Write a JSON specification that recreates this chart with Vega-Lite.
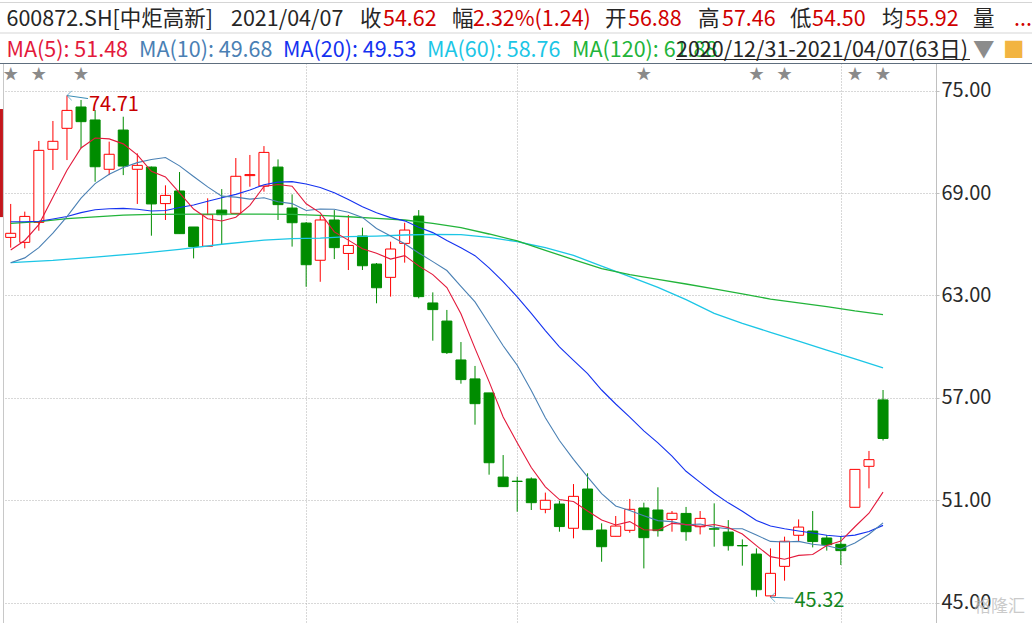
{
"$schema": "https://vega.github.io/schema/vega-lite/v6.json",
"width": 933, "height": 560,
"autosize": {"type": "none"},
"padding": {"left": 3, "top": 63, "right": 96, "bottom": 0},
"background": "#FFFFFF",
"config": {"view": {"stroke": "#C8C8C8"}, "font": "Noto Sans CJK SC"},
"datasets": {
"k": [
{"i":0,"o":66.40,"h":68.36,"l":65.80,"c":66.64,"ma5":65.66,"ma10":64.92,"ma20":67.32},
{"i":1,"o":66.11,"h":67.91,"l":65.76,"c":67.63,"ma5":66.22,"ma10":65.20,"ma20":67.32},
{"i":2,"o":67.28,"h":72.05,"l":66.79,"c":71.50,"ma5":67.15,"ma10":65.80,"ma20":67.35},
{"i":3,"o":71.56,"h":73.22,"l":70.35,"c":72.03,"ma5":68.75,"ma10":66.65,"ma20":67.48},
{"i":4,"o":72.79,"h":74.71,"l":70.93,"c":73.84,"ma5":70.33,"ma10":67.62,"ma20":67.62},
{"i":5,"o":74.04,"h":74.45,"l":71.62,"c":73.18,"ma5":71.64,"ma10":68.70,"ma20":67.85},
{"i":6,"o":73.28,"h":73.86,"l":69.66,"c":70.54,"ma5":72.22,"ma10":69.55,"ma20":68.02},
{"i":7,"o":70.39,"h":72.01,"l":70.05,"c":71.27,"ma5":72.17,"ma10":70.10,"ma20":68.08},
{"i":8,"o":72.69,"h":73.47,"l":70.05,"c":70.58,"ma5":71.88,"ma10":70.50,"ma20":68.10},
{"i":9,"o":70.39,"h":71.32,"l":68.36,"c":70.62,"ma5":71.24,"ma10":70.78,"ma20":68.05},
{"i":10,"o":70.52,"h":70.55,"l":66.50,"c":68.36,"ma5":70.27,"ma10":70.96,"ma20":67.95},
{"i":11,"o":68.38,"h":69.45,"l":67.42,"c":68.86,"ma5":69.94,"ma10":71.08,"ma20":67.98},
{"i":12,"o":69.12,"h":70.23,"l":66.62,"c":66.62,"ma5":69.01,"ma10":70.59,"ma20":68.15},
{"i":13,"o":67.01,"h":67.01,"l":65.17,"c":65.86,"ma5":68.06,"ma10":69.97,"ma20":68.30},
{"i":14,"o":65.88,"h":68.69,"l":65.88,"c":67.73,"ma5":67.49,"ma10":69.36,"ma20":68.52},
{"i":15,"o":68.00,"h":69.23,"l":66.01,"c":67.73,"ma5":67.36,"ma10":68.82,"ma20":68.72},
{"i":16,"o":67.81,"h":71.05,"l":67.81,"c":69.98,"ma5":67.58,"ma10":68.76,"ma20":68.92},
{"i":17,"o":70.02,"h":71.23,"l":69.37,"c":70.08,"ma5":68.28,"ma10":68.64,"ma20":69.18},
{"i":18,"o":69.41,"h":71.75,"l":69.08,"c":71.38,"ma5":69.38,"ma10":68.72,"ma20":69.48},
{"i":19,"o":70.52,"h":70.97,"l":67.42,"c":68.32,"ma5":69.50,"ma10":68.49,"ma20":69.64},
{"i":20,"o":68.12,"h":68.92,"l":65.86,"c":67.26,"ma5":69.40,"ma10":68.38,"ma20":69.67},
{"i":21,"o":67.24,"h":67.30,"l":63.51,"c":64.80,"ma5":68.37,"ma10":67.98,"ma20":69.53},
{"i":22,"o":65.06,"h":67.71,"l":63.80,"c":67.42,"ma5":67.84,"ma10":68.06,"ma20":69.32},
{"i":23,"o":67.42,"h":68.00,"l":65.13,"c":65.80,"ma5":66.72,"ma10":68.05,"ma20":69.01},
{"i":24,"o":65.46,"h":67.71,"l":64.49,"c":65.93,"ma5":66.24,"ma10":67.87,"ma20":68.62},
{"i":25,"o":66.48,"h":66.97,"l":64.49,"c":64.74,"ma5":65.74,"ma10":67.57,"ma20":68.19},
{"i":26,"o":64.84,"h":64.90,"l":62.54,"c":63.45,"ma5":65.47,"ma10":66.92,"ma20":67.84},
{"i":27,"o":64.06,"h":66.15,"l":62.93,"c":65.72,"ma5":65.13,"ma10":66.48,"ma20":67.56},
{"i":28,"o":66.05,"h":67.26,"l":64.92,"c":66.83,"ma5":65.33,"ma10":66.03,"ma20":67.37},
{"i":29,"o":67.65,"h":68.00,"l":62.83,"c":62.93,"ma5":64.73,"ma10":65.49,"ma20":66.99},
{"i":30,"o":62.56,"h":63.18,"l":60.35,"c":62.17,"ma5":64.22,"ma10":64.98,"ma20":66.68},
{"i":31,"o":61.50,"h":62.15,"l":59.57,"c":59.65,"ma5":63.46,"ma10":64.46,"ma20":66.22},
{"i":32,"o":59.22,"h":60.27,"l":57.83,"c":58.07,"ma5":61.93,"ma10":63.53,"ma20":65.79},
{"i":33,"o":58.11,"h":58.87,"l":55.43,"c":56.66,"ma5":59.90,"ma10":62.62,"ma20":65.33},
{"i":34,"o":57.29,"h":57.29,"l":52.50,"c":53.20,"ma5":57.95,"ma10":61.34,"ma20":64.61},
{"i":35,"o":52.36,"h":53.65,"l":51.80,"c":51.80,"ma5":55.88,"ma10":60.05,"ma20":63.81},
{"i":36,"o":52.12,"h":52.38,"l":50.33,"c":52.10,"ma5":54.37,"ma10":58.91,"ma20":62.92},
{"i":37,"o":52.25,"h":52.34,"l":50.43,"c":50.86,"ma5":52.92,"ma10":57.43,"ma20":61.95},
{"i":38,"o":50.47,"h":51.45,"l":50.24,"c":51.00,"ma5":51.79,"ma10":55.84,"ma20":60.94},
{"i":39,"o":50.78,"h":50.98,"l":49.16,"c":49.46,"ma5":51.04,"ma10":54.50,"ma20":59.99},
{"i":40,"o":49.36,"h":51.95,"l":48.77,"c":51.23,"ma5":50.93,"ma10":53.40,"ma20":59.19},
{"i":41,"o":51.66,"h":52.58,"l":49.28,"c":49.28,"ma5":50.37,"ma10":52.37,"ma20":58.42},
{"i":42,"o":49.26,"h":49.65,"l":47.40,"c":48.28,"ma5":49.85,"ma10":51.39,"ma20":57.46},
{"i":43,"o":48.89,"h":50.08,"l":48.89,"c":49.49,"ma5":49.55,"ma10":50.67,"ma20":56.64},
{"i":44,"o":49.24,"h":51.08,"l":49.10,"c":50.47,"ma5":49.75,"ma10":50.40,"ma20":55.87},
{"i":45,"o":50.55,"h":50.86,"l":47.01,"c":48.81,"ma5":49.27,"ma10":50.10,"ma20":55.07},
{"i":46,"o":50.43,"h":51.76,"l":48.87,"c":49.22,"ma5":49.25,"ma10":49.81,"ma20":54.36},
{"i":47,"o":49.88,"h":50.37,"l":49.16,"c":50.24,"ma5":49.65,"ma10":49.75,"ma20":53.59},
{"i":48,"o":50.23,"h":50.61,"l":48.63,"c":49.16,"ma5":49.58,"ma10":49.56,"ma20":52.70},
{"i":49,"o":49.45,"h":50.37,"l":49.00,"c":49.94,"ma5":49.47,"ma10":49.61,"ma20":52.05},
{"i":50,"o":49.33,"h":50.82,"l":48.28,"c":49.31,"ma5":49.58,"ma10":49.42,"ma20":51.41},
{"i":51,"o":49.14,"h":49.84,"l":48.05,"c":48.34,"ma5":49.40,"ma10":49.33,"ma20":50.85},
{"i":52,"o":48.35,"h":48.71,"l":47.17,"c":48.33,"ma5":49.02,"ma10":49.33,"ma20":50.36},
{"i":53,"o":47.85,"h":48.18,"l":45.35,"c":45.76,"ma5":48.34,"ma10":48.96,"ma20":49.82},
{"i":54,"o":45.40,"h":48.18,"l":45.32,"c":46.72,"ma5":47.70,"ma10":48.59,"ma20":49.49},
{"i":55,"o":47.13,"h":48.87,"l":46.29,"c":48.60,"ma5":47.55,"ma10":48.56,"ma20":49.33},
{"i":56,"o":48.95,"h":49.88,"l":48.56,"c":49.43,"ma5":47.77,"ma10":48.59,"ma20":49.20},
{"i":57,"o":49.20,"h":50.37,"l":48.24,"c":48.58,"ma5":47.82,"ma10":48.42,"ma20":49.08},
{"i":58,"o":48.79,"h":48.97,"l":48.05,"c":48.40,"ma5":48.35,"ma10":48.34,"ma20":48.95},
{"i":59,"o":48.42,"h":48.87,"l":47.21,"c":48.05,"ma5":48.61,"ma10":48.15,"ma20":48.88},
{"i":60,"o":50.59,"h":52.81,"l":50.59,"c":52.81,"ma5":49.45,"ma10":48.50,"ma20":48.96},
{"i":61,"o":52.99,"h":53.89,"l":51.70,"c":53.38,"ma5":50.24,"ma10":49.01,"ma20":49.17},
{"i":62,"o":56.88,"h":57.46,"l":54.50,"c":54.62,"ma5":51.48,"ma10":49.68,"ma20":49.53}
],
"slow": [
{"s":"ma60","i":0,"v":64.92},{"s":"ma60","i":3,"v":65.05},{"s":"ma60","i":6,"v":65.25},{"s":"ma60","i":9,"v":65.45},{"s":"ma60","i":12,"v":65.70},{"s":"ma60","i":15,"v":66.00},{"s":"ma60","i":18,"v":66.24},{"s":"ma60","i":20,"v":66.33},{"s":"ma60","i":22,"v":66.36},{"s":"ma60","i":24,"v":66.44},{"s":"ma60","i":26,"v":66.48},{"s":"ma60","i":28,"v":66.54},{"s":"ma60","i":30,"v":66.58},{"s":"ma60","i":32,"v":66.56},{"s":"ma60","i":34,"v":66.40},{"s":"ma60","i":36,"v":66.15},{"s":"ma60","i":37,"v":65.97},{"s":"ma60","i":38,"v":65.80},{"s":"ma60","i":40,"v":65.35},{"s":"ma60","i":42,"v":64.72},{"s":"ma60","i":44,"v":64.10},{"s":"ma60","i":46,"v":63.47},{"s":"ma60","i":48,"v":62.75},{"s":"ma60","i":50,"v":61.95},{"s":"ma60","i":52,"v":61.37},{"s":"ma60","i":54,"v":60.84},{"s":"ma60","i":56,"v":60.33},{"s":"ma60","i":58,"v":59.80},{"s":"ma60","i":60,"v":59.28},{"s":"ma60","i":62,"v":58.76},
{"s":"ma120","i":0,"v":67.22},{"s":"ma120","i":2,"v":67.32},{"s":"ma120","i":4,"v":67.50},{"s":"ma120","i":6,"v":67.60},{"s":"ma120","i":8,"v":67.70},{"s":"ma120","i":10,"v":67.75},{"s":"ma120","i":14,"v":67.76},{"s":"ma120","i":18,"v":67.76},{"s":"ma120","i":20,"v":67.75},{"s":"ma120","i":22,"v":67.69},{"s":"ma120","i":24,"v":67.61},{"s":"ma120","i":26,"v":67.52},{"s":"ma120","i":28,"v":67.42},{"s":"ma120","i":30,"v":67.22},{"s":"ma120","i":32,"v":66.97},{"s":"ma120","i":34,"v":66.60},{"s":"ma120","i":36,"v":66.19},{"s":"ma120","i":37,"v":65.92},{"s":"ma120","i":38,"v":65.64},{"s":"ma120","i":40,"v":65.10},{"s":"ma120","i":42,"v":64.57},{"s":"ma120","i":44,"v":64.22},{"s":"ma120","i":46,"v":63.94},{"s":"ma120","i":48,"v":63.67},{"s":"ma120","i":50,"v":63.38},{"s":"ma120","i":52,"v":63.09},{"s":"ma120","i":54,"v":62.79},{"s":"ma120","i":56,"v":62.56},{"s":"ma120","i":58,"v":62.34},{"s":"ma120","i":60,"v":62.09},{"s":"ma120","i":62,"v":61.88}
],
"stars": [{"i":0},{"i":2},{"i":5},{"i":45},{"i":53},{"i":55},{"i":60},{"i":62}],
"notes": [{"i":4,"v":74.71,"t":"74.71"},{"i":54,"v":45.32,"t":"45.32"}],
"hdr": [
{"k":1,"r":1,"t":"600872.SH[中炬高新]","tone":"dark"},
{"k":2,"r":1,"t":"2021/04/07","tone":"dark"},
{"k":3,"r":1,"t":"收","tone":"dark"},
{"k":4,"r":1,"t":"54.62","tone":"red"},
{"k":5,"r":1,"t":"幅","tone":"dark"},
{"k":6,"r":1,"t":"2.32%(1.24)","tone":"red"},
{"k":7,"r":1,"t":"开","tone":"dark"},
{"k":8,"r":1,"t":"56.88","tone":"red"},
{"k":9,"r":1,"t":"高","tone":"dark"},
{"k":10,"r":1,"t":"57.46","tone":"red"},
{"k":11,"r":1,"t":"低","tone":"dark"},
{"k":12,"r":1,"t":"54.50","tone":"red"},
{"k":13,"r":1,"t":"均","tone":"dark"},
{"k":14,"r":1,"t":"55.92","tone":"red"},
{"k":15,"r":1,"t":"量","tone":"dark"},
{"k":16,"r":1,"t":"...","tone":"red"},
{"k":1,"r":3,"t":"MA(5): 51.48","tone":"ma5"},
{"k":17,"r":3,"t":"MA(10): 49.68","tone":"ma10"},
{"k":18,"r":3,"t":"MA(20): 49.53","tone":"ma20"},
{"k":19,"r":3,"t":"MA(60): 58.76","tone":"ma60"},
{"k":20,"r":3,"t":"MA(120): 61.88","tone":"ma120"},
{"k":21,"r":3,"t":"2020/12/31-2021/04/07(63日)","tone":"dark"},
{"k":15,"r":3,"t":"▼","tone":"gray"},
{"k":22,"r":3,"t":"■","tone":"orange"},
{"k":25,"r":6,"t":"格隆汇","tone":"wm"}
],
"hrules": [
{"k":0,"k2":24,"r":0,"tone":"sepl"},
{"k":0,"k2":24,"r":2,"tone":"sepl"},
{"k":0,"k2":24,"r":5,"tone":"sepd"},
{"k":21,"k2":23,"r":4,"tone":"dark"}
]
},
"layer": [
{
"layer": [
{
"data": {"values": [{"lo": 67.59, "hi": 73.92}]},
"mark": {"type": "rect", "color": "#C3161C"},
"encoding": {
"x": {"datum": -0.76, "type": "quantitative"},
"x2": {"datum": -0.55},
"y": {"field": "lo", "type": "quantitative", "title": null},
"y2": {"field": "hi"}
}
},
{
"data": {"name": "k"},
"mark": {"type": "rule", "strokeWidth": 1},
"encoding": {
"x": {"field": "i", "type": "quantitative", "title": null,
"scale": {"domain": [-0.547, 65.764], "nice": false, "zero": false, "padding": 0},
"axis": {"values": [21, 36, 59], "grid": true, "gridDash": [1, 2], "gridColor": "#B0B0B0", "labels": false, "ticks": false, "domain": false, "title": null}},
"y": {"field": "l", "type": "quantitative", "title": null,
"scale": {"domain": [43.811, 76.617], "nice": false, "zero": false, "padding": 0},
"axis": {"orient": "right", "values": [45, 51, 57, 63, 69, 75], "format": ".2f", "grid": true, "gridDash": [1, 2], "gridColor": "#B0B0B0", "domainColor": "#C0C0C0", "tickColor": "#C0C0C0", "tickSize": 3, "labelPadding": 2, "labelFontSize": 20, "labelColor": "#2A2A2A", "labelFont": "Noto Sans CJK SC", "labelFlush": false, "labelOverlap": false, "title": null}},
"y2": {"field": "h"},
"color": {"condition": {"test": "datum.c >= datum.o", "value": "#FF0000"}, "value": "#008C00"}
}
},
{
"data": {"name": "k"},
"mark": {"type": "bar", "size": 10, "strokeWidth": 1, "orient": "vertical"},
"encoding": {
"x": {"field": "i", "type": "quantitative", "title": null},
"y": {"field": "o", "type": "quantitative", "title": null},
"y2": {"field": "c"},
"fill": {"condition": {"test": "datum.c >= datum.o", "value": "#FFFFFF"}, "value": "#008C00"},
"stroke": {"condition": {"test": "datum.c >= datum.o", "value": "#FF0000"}, "value": "#008C00"}
}
},
{
"data": {"name": "slow"},
"mark": {"type": "line", "strokeWidth": 1.3},
"encoding": {
"x": {"field": "i", "type": "quantitative", "title": null},
"y": {"field": "v", "type": "quantitative", "title": null},
"color": {"field": "s", "type": "nominal", "legend": null,
"scale": {"domain": ["ma5", "ma10", "ma20", "ma60", "ma120"], "range": ["#E3193B", "#4A80B4", "#1432F0", "#1CC6E6", "#22B43A"]}}
}
},
{
"data": {"name": "k"},
"transform": [{"fold": ["ma20", "ma10", "ma5"], "as": ["s", "v"]}],
"mark": {"type": "line", "strokeWidth": 1.1},
"encoding": {
"x": {"field": "i", "type": "quantitative", "title": null},
"y": {"field": "v", "type": "quantitative", "title": null},
"color": {"field": "s", "type": "nominal", "legend": null}
}
},
{
"data": {"name": "stars"},
"mark": {"type": "text", "text": "★", "fontSize": 15, "color": "#8A8A8A", "baseline": "middle", "align": "center"},
"encoding": {
"x": {"field": "i", "type": "quantitative", "title": null},
"y": {"datum": 75.97, "type": "quantitative"}
}
},
{
"data": {"name": "notes"},
"mark": {"type": "point", "shape": "M1,-1L0,0L1,1", "size": 90, "filled": false, "strokeWidth": 1, "color": "#3A8DB5"},
"encoding": {
"x": {"field": "i", "type": "quantitative", "title": null},
"y": {"field": "v", "type": "quantitative", "title": null}
}
},
{
"data": {"values": [{"i": 4, "v": 74.71}]},
"mark": {"type": "rule", "x2Offset": 21, "y2Offset": 3, "strokeWidth": 1, "color": "#3A8DB5"},
"encoding": {
"x": {"field": "i", "type": "quantitative", "title": null},
"y": {"field": "v", "type": "quantitative", "title": null},
"x2": {"field": "i"},
"y2": {"field": "v"}
}
},
{
"data": {"values": [{"i": 54, "v": 45.32}]},
"mark": {"type": "rule", "x2Offset": 23, "y2Offset": 1, "strokeWidth": 1, "color": "#3A8DB5"},
"encoding": {
"x": {"field": "i", "type": "quantitative", "title": null},
"y": {"field": "v", "type": "quantitative", "title": null},
"x2": {"field": "i"},
"y2": {"field": "v"}
}
},
{
"data": {"values": [{"i": 4, "v": 74.71, "t": "74.71"}]},
"mark": {"type": "text", "align": "left", "baseline": "alphabetic", "dx": 22, "dy": 15, "fontSize": 20, "color": "#C80000"},
"encoding": {
"x": {"field": "i", "type": "quantitative", "title": null},
"y": {"field": "v", "type": "quantitative", "title": null},
"text": {"field": "t"}
}
},
{
"data": {"values": [{"i": 54, "v": 45.32, "t": "45.32"}]},
"mark": {"type": "text", "align": "left", "baseline": "alphabetic", "dx": 24, "dy": 10, "fontSize": 20, "color": "#14861E"},
"encoding": {
"x": {"field": "i", "type": "quantitative", "title": null},
"y": {"field": "v", "type": "quantitative", "title": null},
"text": {"field": "t"}
}
}
]
},
{
"layer": [
{
"data": {"name": "hrules"},
"mark": {"type": "rule", "strokeWidth": 1},
"encoding": {
"x": {"field": "k", "type": "quantitative", "axis": null,
"scale": {"domain": [0,1,2,3,4,5,6,7,8,9,10,11,12,13,14,15,16,17,18,19,20,21,22,23,24,25],
"range": [-3,3.5,228,357,380,449,470,602,625,695,719,787,809,879,902,970,1011,136,280,424,569,673,1000,967,1029,971], "nice": false, "zero": false, "padding": 0}},
"x2": {"field": "k2"},
"y": {"field": "r", "type": "quantitative", "axis": null,
"scale": {"domain": [0,1,2,3,4,5,6], "range": [-60.5,-37.5,-30,-5.7,-3.5,0.5,549], "nice": false, "zero": false, "padding": 0}},
"color": {"field": "tone", "type": "nominal", "legend": null,
"scale": {"domain": ["dark","red","ma5","ma10","ma20","ma60","ma120","gray","orange","wm","sepl","sepd"],
"range": ["#262626","#D00000","#E3193B","#4A80B4","#1432F0","#1CC6E6","#22B43A","#8C8C8C","#F2B441","#BEBEBE","#D5D5D5","#5E6E7E"]}}
}
},
{
"data": {"name": "hdr"},
"transform": [{"filter": "datum.tone !== 'wm'"}],
"mark": {"type": "text", "align": "left", "baseline": "alphabetic", "fontSize": 21.5},
"encoding": {
"x": {"field": "k", "type": "quantitative", "axis": null},
"y": {"field": "r", "type": "quantitative", "axis": null},
"text": {"field": "t"},
"color": {"field": "tone", "type": "nominal", "legend": null}
}
},
{
"data": {"name": "hdr"},
"transform": [{"filter": "datum.tone === 'wm'"}],
"mark": {"type": "text", "align": "left", "baseline": "alphabetic", "fontSize": 17, "opacity": 0.8},
"encoding": {
"x": {"field": "k", "type": "quantitative", "axis": null},
"y": {"field": "r", "type": "quantitative", "axis": null},
"text": {"field": "t"},
"color": {"field": "tone", "type": "nominal", "legend": null}
}
}
]
}
],
"resolve": {"scale": {"x": "independent", "y": "independent", "color": "independent"}}
}
